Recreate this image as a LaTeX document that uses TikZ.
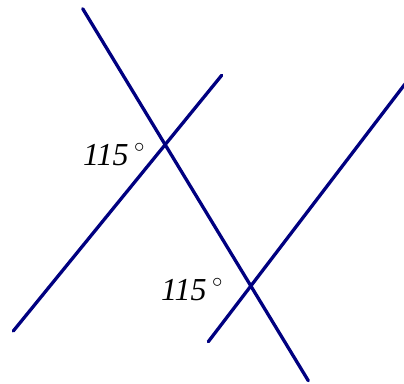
\documentclass[tikz,border=0pt]{standalone}
\usepackage{fontspec}
\setmainfont{Liberation Serif}
\usepackage{xcolor}
\definecolor{linecol}{RGB}{0,0,128}
\usetikzlibrary{positioning}
\newcommand{\degmark}{\,\raisebox{0.12em}{$^\circ$}}

\begin{document}
\begin{tikzpicture}[x=1pt,y=-1pt,
  line/.style={draw=linecol, line width=3.3pt, line cap=round},
  angle/.style={inner sep=0pt, anchor=base, font=\fontsize{32}{38}\selectfont\itshape}]
\useasboundingbox (0,0) rectangle (404,383);
% transversal
\coordinate (t1) at (82.7,8.7);
\coordinate (t2) at (308.3,380.7);
% parallel lines
\coordinate (a1) at (13.3,331);
\coordinate (a2) at (221.7,75.3);
\coordinate (b1) at (208.3,341.7);
\coordinate (b2) at (405,84);
\draw[line] (t1) -- (t2);
\draw[line] (a1) -- (a2);
\draw[line] (b1) -- (b2);
% angles
\node[angle] at (114,165) (ang1) {115\degmark};
\node[angle] at (192,300) (ang2) {115\degmark};
\end{tikzpicture}
\end{document}
